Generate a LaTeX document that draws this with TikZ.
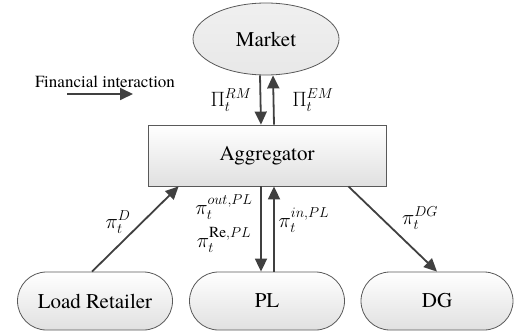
\documentclass[tikz,border=0pt]{standalone}
\usepackage{amsmath,amssymb}
\usepackage{fontspec}
\setmainfont{texgyretermes}[Extension=.otf,UprightFont=*-regular,ItalicFont=*-italic,BoldFont=*-bold]
\usetikzlibrary{arrows.meta,shapes.geometric,shapes.misc,calc}
\tikzset{
  unit/.style={draw=black!65,line width=0.8pt,top color=white,bottom color=black!12,font=\fontsize{21}{24}\selectfont},
  pill/.style={unit,rounded rectangle,minimum width=155pt,minimum height=58pt,inner sep=0pt},
  flow/.style={draw=black!75,line width=1.8pt,-{Triangle[length=13pt,width=12pt]}},
  lbl/.style={font=\fontsize{22}{24}\selectfont,inner sep=0pt}
}
\begin{document}
\begin{tikzpicture}[x=1pt,y=-1pt]
\useasboundingbox (0,0) rectangle (516,331);
\node[unit,ellipse,minimum width=146pt,minimum height=72pt,top color=black!6,bottom color=black!9] (mk) at (266,39) {Market};
\node[unit,rectangle,minimum width=238pt,minimum height=61pt] (agg) at (267,155.5) {Aggregator};
\node[pill] (lr) at (95,301) {Load Retailer};
\node[pill] (pl) at (267,301) {PL};
\node[pill,minimum width=152pt] (dg) at (437,301) {DG};
% financial legend
\node[font=\fontsize{17}{20}\selectfont] (fi) at (105,82) {Financial interaction};
\coordinate (fa) at (67,94); \coordinate (fb) at (133,94);
\draw[flow] (fa) -- (fb);
% flows
\draw[flow] ([xshift=-6pt]mk.south) -- ([xshift=-6pt]agg.north);
\draw[flow] ([xshift=7pt]agg.north) -- ([xshift=7pt]mk.south);
\draw[flow] ([xshift=-6pt]agg.south) -- ([xshift=-6pt]pl.north);
\draw[flow] ([xshift=7pt]pl.north) -- ([xshift=7pt]agg.south);
\draw[flow] ([xshift=-3pt]lr.north) -- ([xshift=31pt]agg.south west);
\draw[flow] ([xshift=-38pt]agg.south east) -- (dg.north);
% prices
\node[lbl] (prm) at (231,100) {$\Pi_t^{RM}$};
\node[lbl] (pem) at (313,100) {$\Pi_t^{EM}$};
\node[lbl] (pd) at (118,222) {$\pi_t^{D}$};
\node[lbl] (pout) at (224,207) {$\pi_t^{out,PL}$};
\node[lbl] (pre) at (224,240) {$\pi_t^{\mathrm{Re},PL}$};
\node[lbl] (pin) at (304,220) {$\pi_t^{in,PL}$};
\node[lbl] (pdg) at (420,218) {$\pi_t^{DG}$};
\end{tikzpicture}
\end{document}
